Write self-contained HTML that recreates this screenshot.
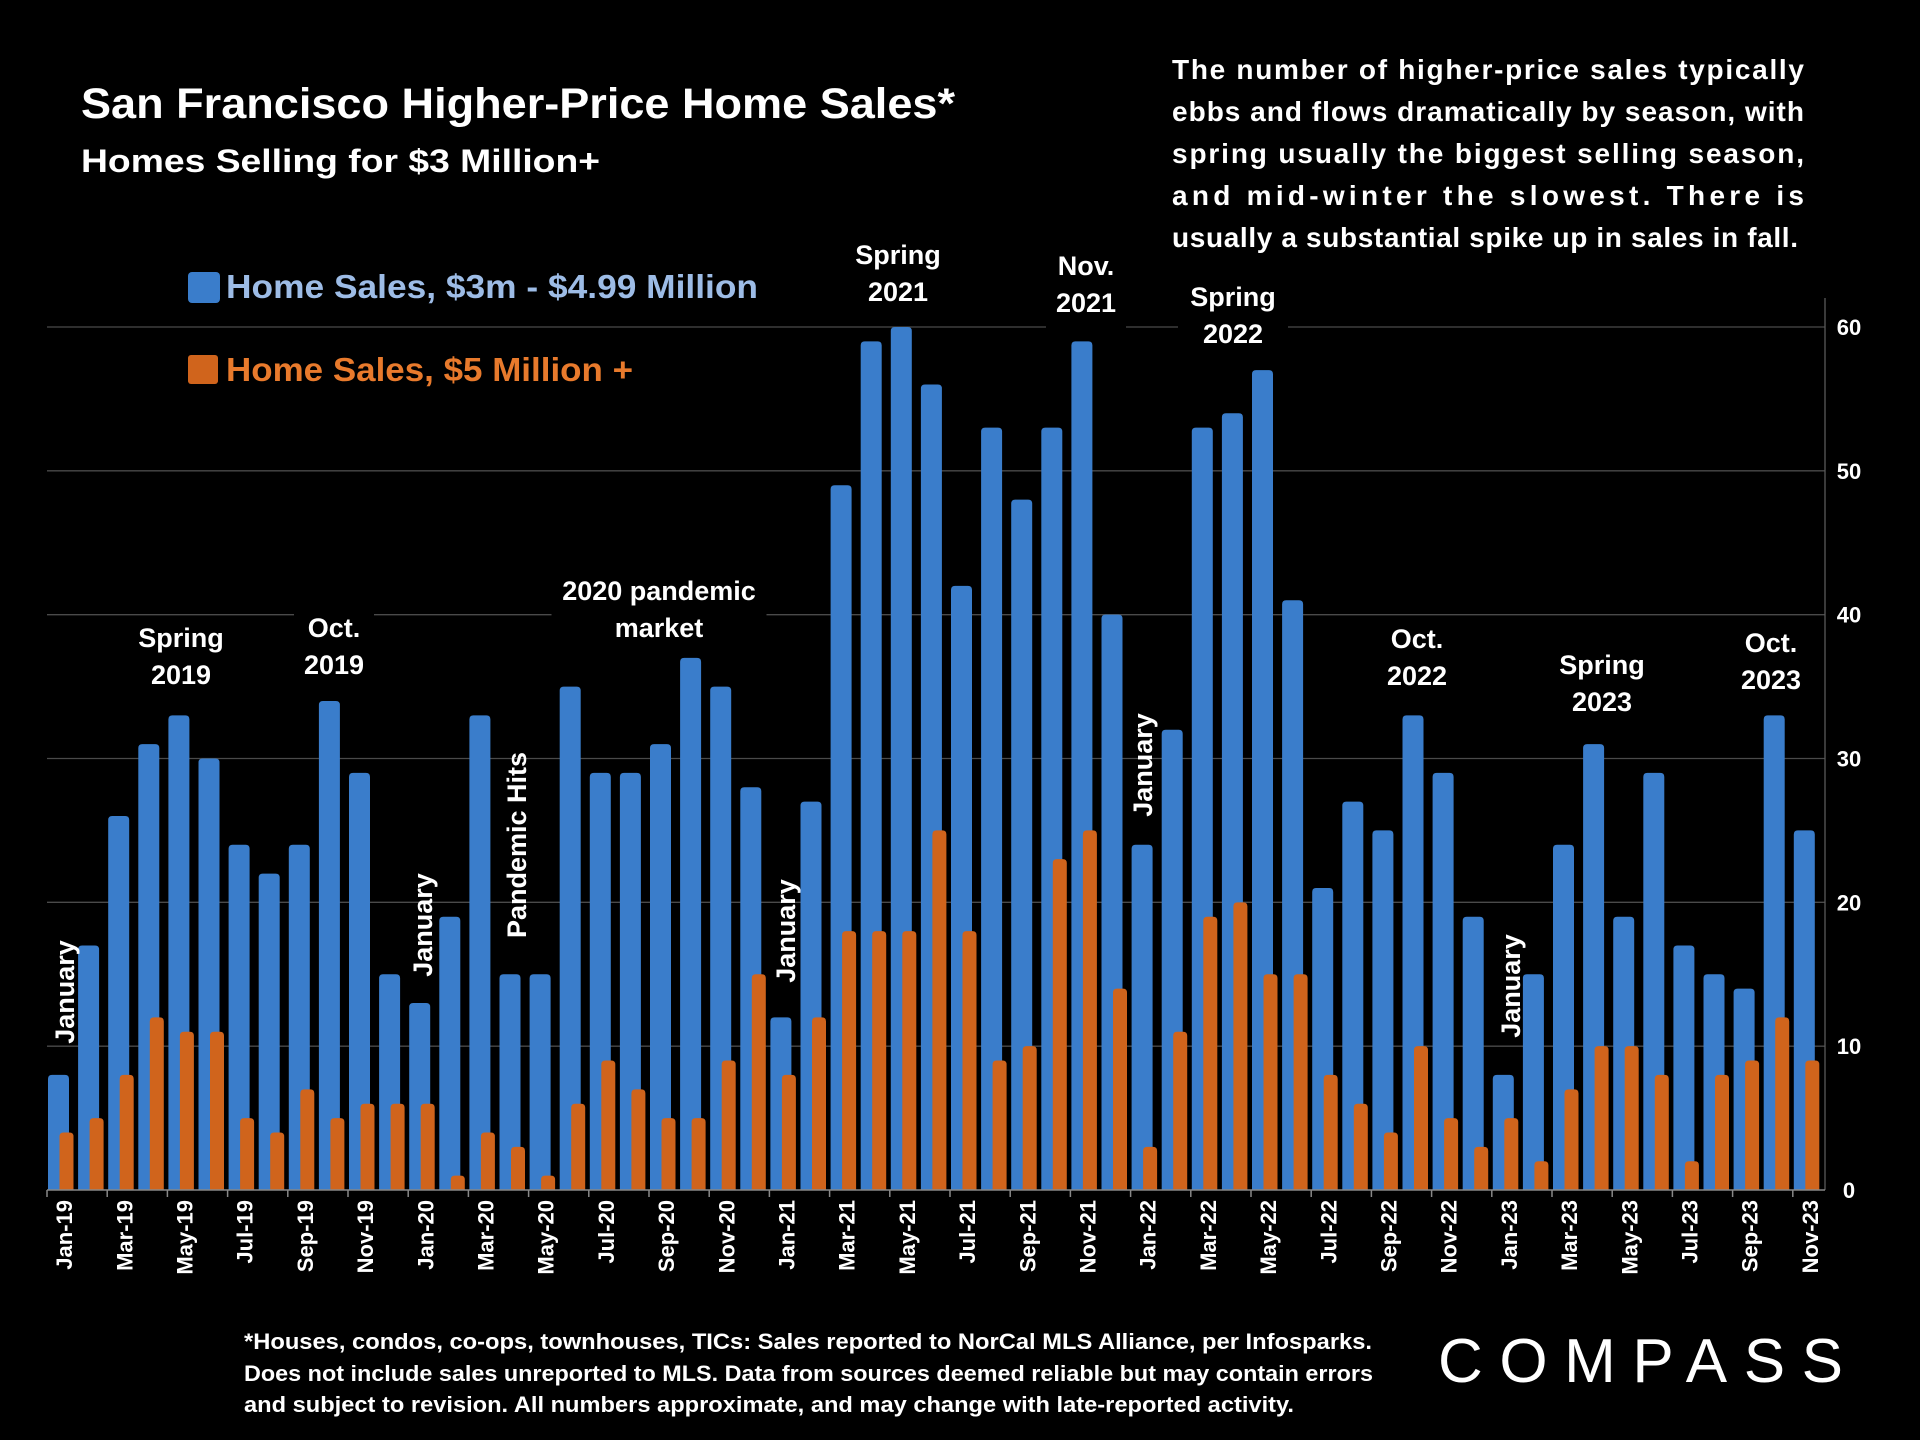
<!DOCTYPE html>
<html><head><meta charset="utf-8"><style>
html,body{margin:0;padding:0;background:#000;}
svg{display:block;font-family:"Liberation Sans",Arial,sans-serif;}
</style></head><body>
<svg id="chart" width="1920" height="1440" viewBox="0 0 1920 1440" xmlns="http://www.w3.org/2000/svg">
<rect width="1920" height="1440" fill="#000"/>
<g id="grid"></g>
<g id="bars"></g>
<g id="axes"></g>
<text x="81" y="118" fill="#fff" font-size="43" font-weight="bold" textLength="874" lengthAdjust="spacingAndGlyphs">San Francisco Higher-Price Home Sales*</text>
<text x="81" y="172" fill="#fff" font-size="32" font-weight="bold" textLength="519" lengthAdjust="spacingAndGlyphs">Homes Selling for $3 Million+</text>
<g>
<rect x="188" y="272" width="32" height="31" rx="4" fill="#3a7dcb"/>
<text x="226" y="298" fill="#9dbce6" font-size="33" font-weight="bold" textLength="532" lengthAdjust="spacingAndGlyphs">Home Sales, $3m - $4.99 Million</text>
<rect x="188" y="355" width="30" height="29" rx="3" fill="#d0641c"/>
<text x="226" y="381" fill="#e87a2c" font-size="33" font-weight="bold" textLength="407" lengthAdjust="spacingAndGlyphs">Home Sales, $5 Million +</text>
</g>
<g fill="#fff" font-size="28" font-weight="bold">
<text x="1172" y="79" textLength="632" lengthAdjust="spacing">The number of higher-price sales typically</text>
<text x="1172" y="121" textLength="632" lengthAdjust="spacing">ebbs and flows dramatically by season, with</text>
<text x="1172" y="163" textLength="632" lengthAdjust="spacing">spring usually the biggest selling season,</text>
<text x="1172" y="205" textLength="632" lengthAdjust="spacing">and mid-winter the slowest. There is</text>
<text x="1172" y="247" textLength="626" lengthAdjust="spacing">usually a substantial spike up in sales in fall.</text>
</g>
<g id="annos"></g>
<g fill="#fff" font-size="22" font-weight="bold">
<text x="244" y="1349" textLength="1128" lengthAdjust="spacingAndGlyphs">*Houses, condos, co-ops, townhouses, TICs:  Sales reported to NorCal MLS Alliance, per Infosparks.</text>
<text x="244" y="1381" textLength="1129" lengthAdjust="spacingAndGlyphs">Does not include sales unreported to MLS. Data from sources deemed reliable but may contain errors</text>
<text x="244" y="1412" textLength="1050" lengthAdjust="spacingAndGlyphs">and subject to revision.  All numbers approximate, and may change with late-reported activity.</text>
</g>
<text x="1438" y="1382" fill="#fff" font-size="62" textLength="405" lengthAdjust="spacing">COMPASS</text>
</svg>
<script>
const months = ["Jan-19","Feb-19","Mar-19","Apr-19","May-19","Jun-19","Jul-19","Aug-19","Sep-19","Oct-19","Nov-19","Dec-19",
"Jan-20","Feb-20","Mar-20","Apr-20","May-20","Jun-20","Jul-20","Aug-20","Sep-20","Oct-20","Nov-20","Dec-20",
"Jan-21","Feb-21","Mar-21","Apr-21","May-21","Jun-21","Jul-21","Aug-21","Sep-21","Oct-21","Nov-21","Dec-21",
"Jan-22","Feb-22","Mar-22","Apr-22","May-22","Jun-22","Jul-22","Aug-22","Sep-22","Oct-22","Nov-22","Dec-22",
"Jan-23","Feb-23","Mar-23","Apr-23","May-23","Jun-23","Jul-23","Aug-23","Sep-23","Oct-23","Nov-23"];
const sales3to5 = [8,17,26,31,33,30,24,22,24,34,29,15, 13,19,33,15,15,35,29,29,31,37,35,28, 12,27,49,59,60,56,42,53,48,53,59,40, 24,32,53,54,57,41,21,27,25,33,29,19, 8,15,24,31,19,29,17,15,14,33,25];
const sales5plus = [4,5,8,12,11,11,5,4,7,5,6,6, 6,1,4,3,1,6,9,7,5,5,9,15, 8,12,18,18,18,25,18,9,10,23,25,14, 3,11,19,20,15,15,8,6,4,10,5,3, 5,2,7,10,10,8,2,8,9,12,9];
const yTicks = [0,10,20,30,40,50,60];

const NS="http://www.w3.org/2000/svg";
const X0=47, SLOT=30.1, Y0=1190, Y60=327;
const y = v => Y0 - v*(Y0-Y60)/60;
const x = i => X0 + i*SLOT;
function mk(tag, attrs, parent){const e=document.createElementNS(NS,tag);for(const k in attrs)e.setAttribute(k,attrs[k]);parent.appendChild(e);return e;}
function barPath(x0,w,top,bot){const r=Math.min(4,(bot-top)/2);return `M${x0},${bot}V${top+r}Q${x0},${top} ${x0+r},${top}H${x0+w-r}Q${x0+w},${top} ${x0+w},${top+r}V${bot}Z`;}

const grid=document.getElementById('grid'), bars=document.getElementById('bars'), axes=document.getElementById('axes'), annos=document.getElementById('annos');
yTicks.forEach(t=>{
  if(t>0){const l=mk('line',{x1:X0,x2:1825,y1:y(t),y2:y(t),stroke:'#4a4a4a','stroke-width':1.3},grid);
  
  }
  const tx=mk('text',{x:1849,y:y(t)+8,fill:'#fff','font-size':22,'font-weight':'bold','text-anchor':'middle'},axes);
  tx.textContent=t;
  
  
});
const va=mk('line',{x1:1825,x2:1825,y1:298,y2:Y0,stroke:'#5a5a5a','stroke-width':1.3},axes);


months.forEach((m,i)=>{
  const b=mk('path',{d:barPath(x(i)+1,21,y(sales3to5[i]),Y0),fill:'#3a7dcb'},bars);
  
  
  const o=mk('path',{d:barPath(x(i)+12.5,14,y(sales5plus[i]),Y0),fill:'#d0641c'},bars);
  
  
  if(i%2===0){
    const tk=mk('line',{x1:x(i),x2:x(i),y1:Y0,y2:Y0+7,stroke:'#888','stroke-width':1.5},axes);
    
    
    const cx=x(i)+SLOT/2+2;
    const t=mk('text',{x:0,y:0,fill:'#fff','font-size':22,'font-weight':'bold','text-anchor':'end',transform:`translate(${cx+8},1200) rotate(-90)`},axes);
    t.textContent=m;
    
    
  }
});
const base=mk('line',{x1:X0,x2:1825,y1:Y0,y2:Y0,stroke:'#888','stroke-width':1.5},axes);



const horiz=[[181,["Spring","2019"],647],[334,["Oct.","2019"],637],[659,["2020 pandemic","market"],600],[898,["Spring","2021"],264],[1086,["Nov.","2021"],275],[1233,["Spring","2022"],306],[1417,["Oct.","2022"],648],[1602,["Spring","2023"],674],[1771,["Oct.","2023"],652]];
horiz.forEach(([cx,lines,ty])=>{
  const w=Math.max(...lines.map(s=>s.length))*15+20;
  const bg=mk('rect',{x:cx-w/2,y:ty-30,width:w,height:84,fill:'#000'},annos);
  
  
  lines.forEach((s,k)=>{const t=mk('text',{x:cx,y:ty+k*37,fill:'#fff','font-size':27,'font-weight':'bold','text-anchor':'middle'},annos);t.textContent=s;
  
  });
});
const vert=[[64,992,"January"],[422,925,"January"],[516,845,"Pandemic Hits"],[785,931,"January"],[1142,765,"January"],[1510,986,"January"]];
vert.forEach(([cx,cy,s])=>{
  const t=mk('text',{x:0,y:0,fill:'#fff','font-size':27,'font-weight':'bold','text-anchor':'middle',transform:`translate(${cx+10},${cy}) rotate(-90)`},annos);
  t.textContent=s;
  
  
});
</script>
</body></html>
